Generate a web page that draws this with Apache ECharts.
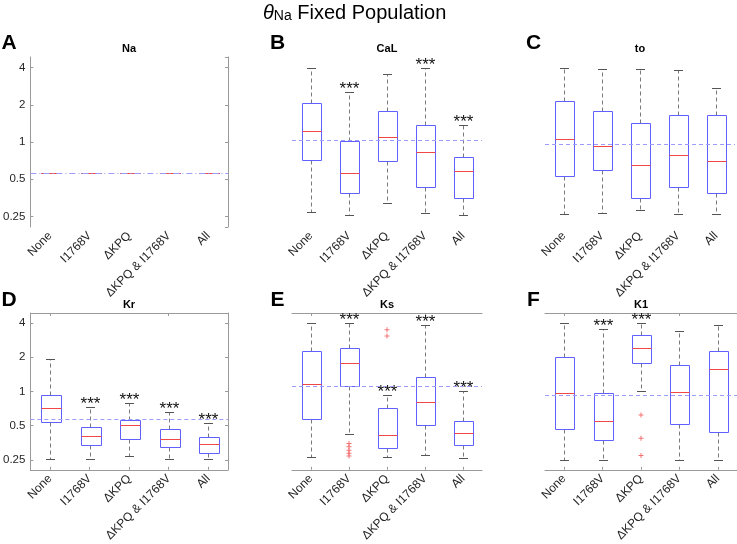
<!DOCTYPE html>
<html><head><meta charset="utf-8">
<script src="https://cdn.jsdelivr.net/npm/echarts@6/dist/echarts.min.js"></script>
<style>html,body{margin:0;padding:0;background:#fff}#c{width:737px;height:544px}</style>
</head><body><div id="c"></div>
<script>
const categories = ['None', 'I1768V', 'ΔKPQ', 'ΔKPQ & I1768V', 'All'];
const yTickLabels = [0.25, 0.5, 1, 2, 4];
const yMin = 0.205, yMax = 4.88;

// each box: [min, q1, median, q3, max]
const naBoxes = [[0.565,0.565,0.565,0.565,0.565],[0.565,0.565,0.565,0.565,0.565],[0.565,0.565,0.565,0.565,0.565],[0.565,0.565,0.565,0.565,0.565],[0.565,0.565,0.565,0.565,0.565]];
const calBoxes = [[0.27,0.72,1.23,2.07,4.0],[0.258,0.39,0.557,1.02,2.52],[0.322,0.696,1.105,1.77,3.54],[0.266,0.43,0.837,1.38,4.0],[0.258,0.351,0.578,0.75,1.38]];
const toBoxes = [[0.263,0.53,1.057,2.15,3.96],[0.268,0.589,0.936,1.77,3.89],[0.282,0.351,0.646,1.43,3.89],[0.263,0.43,0.792,1.64,3.82],[0.263,0.385,0.696,1.64,2.76]];
const krBoxes = [[0.255,0.544,0.71,0.932,1.92],[0.255,0.336,0.404,0.49,0.724],[0.271,0.381,0.506,0.565,0.798],[0.255,0.323,0.385,0.463,0.657],[0.255,0.29,0.345,0.396,0.53]];
const ksBoxes = [[0.265,0.573,1.155,2.25,4.02],[0.42,1.11,1.77,2.42,3.96],[0.265,0.319,0.412,0.718,0.932],[0.275,0.51,0.802,1.35,3.83],[0.26,0.339,0.428,0.547,1.01]];
const k1Boxes = [[0.248,0.472,0.97,2.0,4.02],[0.248,0.378,0.554,0.97,3.52],[1.01,1.79,2.42,3.15,3.96],[0.25,0.513,0.98,1.7,3.37],[0.25,0.436,1.58,2.27,3.83]];

// significance (***) flags per category
const naSig = [0,0,0,0,0];
const calSig = [0,1,0,1,1];
const toSig = [0,0,0,0,0];
const krSig = [0,1,1,1,1];
const ksSig = [0,1,1,1,1];
const k1Sig = [0,1,1,0,0];

// outliers: [categoryIndex, value]
const naOutliers = [];
const calOutliers = [];
const toOutliers = [];
const krOutliers = [];
const ksOutliers = [[1,0.348],[1,0.326],[1,0.305],[1,0.286],[1,0.271],[2,3.48],[2,3.06]];
const k1Outliers = [[2,0.619],[2,0.388],[2,0.273]];

// reference (baseline) values, dashed lines
const naRef = 0.565, calRef = 1.03, toRef = 0.96, krRef = 0.57, ksRef = 1.096, k1Ref = 0.92;

const panelTitles = ['Na', 'CaL', 'to', 'Kr', 'Ks', 'K1'];
const panelLetters = ['A', 'B', 'C', 'D', 'E', 'F'];

const panels = [
  {boxes: naBoxes, sig: naSig, out: naOutliers, ref: naRef, grid: {left: 30, top: 57, width: 198, height: 170}, style: 'A'},
  {boxes: calBoxes, sig: calSig, out: calOutliers, ref: calRef, grid: {left: 292, top: 57, width: 190, height: 170}, style: 'none'},
  {boxes: toBoxes, sig: toSig, out: toOutliers, ref: toRef, grid: {left: 545, top: 57, width: 190, height: 170}, style: 'none'},
  {boxes: krBoxes, sig: krSig, out: krOutliers, ref: krRef, grid: {left: 30, top: 313, width: 198, height: 164}, style: 'box'},
  {boxes: ksBoxes, sig: ksSig, out: ksOutliers, ref: ksRef, grid: {left: 292, top: 313, width: 190, height: 164}, style: 'tb'},
  {boxes: k1Boxes, sig: k1Sig, out: k1Outliers, ref: k1Ref, grid: {left: 545, top: 313, width: 192, height: 164}, style: 'tb'}
];

const FONT = 'Liberation Sans, Arial, Helvetica, sans-serif';
const AX = '#9a9a9a';
const TXT = '#262626';
const BOX = '#6060ff';
const MED = '#f04848';

function renderBox(params, api) {
  const i = api.value(0);
  const mn = api.value(1), q1 = api.value(2), md = api.value(3), q3 = api.value(4), mx = api.value(5);
  const sig = api.value(6);
  const band = api.size([1, 1])[0];
  const bw = Math.round(band * 0.5), cw = Math.round(band * 0.24);
  const cx = Math.round(api.coord([i, md])[0]) + 0.5;
  const Y = v => Math.round(api.coord([i, v])[1]) + 0.5;
  const yMn = Y(mn), yQ1 = Y(q1), yMd = Y(md), yQ3 = Y(q3), yMx = Y(mx);
  const left = Math.round(cx - bw / 2) + 0.5, right = left + bw;
  const ch = [];
  const dash = {stroke: '#7a7a7a', lineWidth: 1, lineDash: [4, 3]};
  ch.push({type: 'line', shape: {x1: cx, y1: yQ3, x2: cx, y2: yMx}, style: dash});
  ch.push({type: 'line', shape: {x1: cx, y1: yQ1, x2: cx, y2: yMn}, style: dash});
  const cap = {stroke: '#555', lineWidth: 1};
  ch.push({type: 'line', shape: {x1: cx - cw / 2, y1: yMx, x2: cx + cw / 2, y2: yMx}, style: cap});
  ch.push({type: 'line', shape: {x1: cx - cw / 2, y1: yMn, x2: cx + cw / 2, y2: yMn}, style: cap});
  ch.push({type: 'rect', shape: {x: left, y: yQ3, width: bw, height: yQ1 - yQ3}, style: {fill: 'none', stroke: BOX, lineWidth: 1}});
  ch.push({type: 'line', shape: {x1: left, y1: yMd, x2: right, y2: yMd}, style: {stroke: MED, lineWidth: 1}, z2: 5});
  if (sig) {
    ch.push({type: 'text', style: {text: '***', x: cx, y: yMx - 3, align: 'center', verticalAlign: 'middle', font: '17px ' + FONT, fill: '#111'}});
  }
  return {type: 'group', children: ch};
}

const grids = [], xAxes = [], yAxes = [], series = [];
panels.forEach((p, k) => {
  grids.push(Object.assign({containLabel: false}, p.grid));
  const showY = p.style === 'A' || p.style === 'box';
  const lineStyle = {color: AX, width: 1};
  const xi = xAxes.length;
  xAxes.push({
    type: 'category', gridIndex: k, data: categories, position: 'bottom',
    axisLine: {show: p.style === 'box' || p.style === 'tb', onZero: false, lineStyle},
    axisTick: {show: p.style === 'box' || p.style === 'tb', inside: true, length: 3, alignWithLabel: true, lineStyle},
    axisLabel: {rotate: 45, interval: 0, fontSize: 12, color: TXT, fontFamily: FONT, margin: 7},
    splitLine: {show: false}
  });
  if (p.style === 'box' || p.style === 'tb') {
    xAxes.push({
      type: 'category', gridIndex: k, data: categories, position: 'top',
      axisLine: {show: true, onZero: false, lineStyle},
      axisTick: {show: true, inside: true, length: 3, alignWithLabel: true, lineStyle},
      axisLabel: {show: false}, splitLine: {show: false}
    });
  }
  const yi = yAxes.length;
  yAxes.push({
    type: 'log', logBase: 2, gridIndex: k, min: yMin, max: yMax, position: 'left',
    axisLine: {show: showY, onZero: false, lineStyle},
    axisTick: {show: showY, inside: true, length: 3, lineStyle},
    axisLabel: {show: showY, fontSize: 11.5, color: TXT, fontFamily: FONT, showMinLabel: false, showMaxLabel: false, margin: 5,
      formatter: v => { const r = yTickLabels.find(t => Math.abs(t - v) / t < 1e-6); return r === undefined ? '' : String(r); }},
    splitLine: {show: false}
  });
  if (showY) {
    yAxes.push({
      type: 'log', logBase: 2, gridIndex: k, min: yMin, max: yMax, position: 'right',
      axisLine: {show: true, onZero: false, lineStyle},
      axisTick: {show: true, inside: true, length: 3, lineStyle},
      axisLabel: {show: false}, splitLine: {show: false}
    });
  }
  series.push({
    type: 'custom', xAxisIndex: xi, yAxisIndex: yi, renderItem: renderBox, clip: false, silent: true,
    encode: {x: 0, y: [1, 2, 3, 4, 5]},
    data: p.boxes.map((b, i) => [i, b[0], b[1], b[2], b[3], b[4], p.sig[i]]),
    markLine: {silent: true, symbol: 'none', label: {show: false}, animation: false,
      lineStyle: {color: '#9c9cff', width: 1, type: p.style === 'A' ? [6, 3, 1, 3] : [4, 3]},
      data: [{yAxis: p.ref}]},
    z: 3
  });
  if (p.out.length) {
    series.push({
      type: 'scatter', xAxisIndex: xi, yAxisIndex: yi, silent: true,
      symbol: 'path://M4,0L6,0L6,4L10,4L10,6L6,6L6,10L4,10L4,6L0,6L0,4L4,4Z', symbolSize: 5,
      itemStyle: {color: '#f05050'},
      data: p.out, z: 4
    });
  }
});

const graphics = [];
const letterPos = [[9, 43.5], [277.5, 43.5], [533.5, 43.5], [9, 300.5], [277.5, 300.5], [533.5, 300.5]];
panels.forEach((p, k) => {
  const g = p.grid;
  graphics.push({type: 'text', x: letterPos[k][0], y: letterPos[k][1], style: {text: panelLetters[k], font: 'bold 21px ' + FONT, fill: '#000', align: 'center', verticalAlign: 'middle'}});
  graphics.push({type: 'text', x: g.left + g.width / 2, y: g.top - 8, style: {text: panelTitles[k], font: 'bold 11px ' + FONT, fill: '#000', align: 'center', verticalAlign: 'middle'}});
});
graphics.push({type: 'text', x: 263, y: 12, style: {
  text: '{t|θ}{s|Na}{n| Fixed Population}', align: 'left', verticalAlign: 'middle',
  rich: {
    t: {fontSize: 20, fontStyle: 'italic', fontFamily: FONT, color: '#000', lineHeight: 22, verticalAlign: 'bottom'},
    s: {fontSize: 14, fontFamily: FONT, color: '#000', lineHeight: 14, verticalAlign: 'bottom'},
    n: {fontSize: 20, fontFamily: FONT, color: '#000', lineHeight: 22, verticalAlign: 'bottom'}
  }
}});

const chart = echarts.init(document.getElementById('c'), null, {renderer: 'canvas'});
chart.setOption({
  animation: false,
  backgroundColor: '#fff',
  grid: grids, xAxis: xAxes, yAxis: yAxes, series: series,
  graphic: graphics
});
</script></body></html>
